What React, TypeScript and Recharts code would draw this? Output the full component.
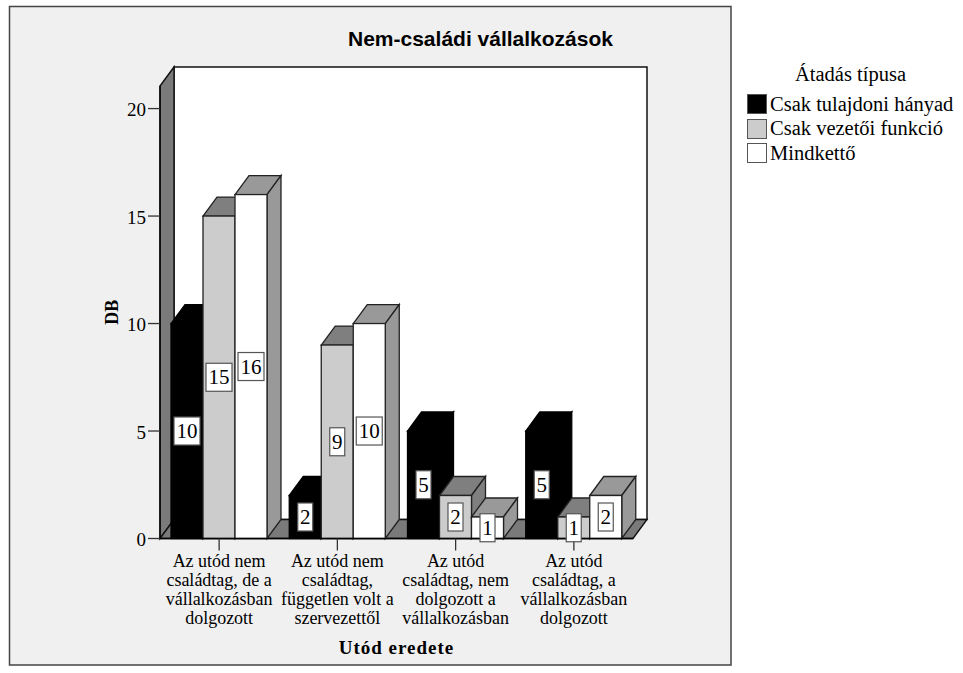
import { Bar, BarChart, LabelList, Legend, XAxis, YAxis, usePlotArea } from "recharts";

const SERIF = "'Liberation Serif', serif";
const SANS = "'Liberation Sans', sans-serif";

const CATEGORY_LINES = [
  ["Az utód nem", "családtag, de a", "vállalkozásban", "dolgozott"],
  ["Az utód nem", "családtag,", "független volt a", "szervezettől"],
  ["Az utód", "családtag, nem", "dolgozott a", "vállalkozásban"],
  ["Az utód", "családtag, a", "vállalkozásban", "dolgozott"],
];
const SERIES_NAMES = ["Csak tulajdoni hányad", "Csak vezetői funkció", "Mindkettő"];
const TULAJDONI = [10, 2, 5, 5];
const VEZETOI = [15, 9, 2, 1];
const MINDKETTO = [16, 10, 1, 2];
const Y_TICKS = [0, 5, 10, 15, 20];

const data = CATEGORY_LINES.map((lines, i) => ({
  name: lines.join(" "),
  lines,
  tulajdoni: TULAJDONI[i],
  vezetoi: VEZETOI[i],
  mindketto: MINDKETTO[i],
}));

// eltolás a 3D hatáshoz
const DX = 14;
const DY = 19;

function Walls() {
  const plot = usePlotArea();
  if (!plot) return null;
  const l = plot.x;
  const r = plot.x + plot.width;
  const t = plot.y;
  const b = plot.y + plot.height;
  return (
    <g>
      <rect x={9.5} y={6.5} width={721.5} height={658.5} fill="#f0f0f0" stroke="#444" strokeWidth={1.5} />
      <rect x={l + DX} y={t - DY} width={r - l} height={b - t} fill="#fff" stroke="#000" strokeWidth={1.4} />
      <polygon
        points={`${l},${t} ${l + DX},${t - DY} ${l + DX},${b - DY} ${l},${b}`}
        fill="#7a7a7a"
        stroke="#111"
        strokeWidth={1.4}
      />
      <polygon
        points={`${l + DX},${b - DY} ${r + DX},${b - DY} ${r},${b} ${l},${b}`}
        fill="#7a7a7a"
        stroke="#111"
        strokeWidth={1.4}
      />
      <text
        x={480.5}
        y={46}
        textAnchor="middle"
        fontFamily={SANS}
        fontWeight="bold"
        fontSize={21}
        fill="#000"
      >
        Nem-családi vállalkozások
      </text>
    </g>
  );
}

function Bar3D(props: any) {
  const { x, y, width, height, fill, topFill, sideFill } = props;
  const stroke = fill === "#000000" ? "#000" : "#222";
  const r = x + width;
  const b = y + height;
  return (
    <g stroke={stroke} strokeWidth={1.3}>
      <polygon points={`${x},${y} ${x + DX},${y - DY} ${r + DX},${y - DY} ${r},${y}`} fill={topFill} />
      <polygon points={`${r},${y} ${r + DX},${y - DY} ${r + DX},${b - DY} ${r},${b}`} fill={sideFill} />
      <rect x={x} y={y} width={width} height={height} fill={fill} />
    </g>
  );
}

function ValueBox(props: any) {
  const { x, y, width, height, value } = props;
  const w = String(value).length > 1 ? 26 : 15;
  const cx = x + width / 2;
  const cy = y + height / 2;
  return (
    <g>
      <rect x={cx - w / 2} y={cy - 14} width={w} height={28} fill="#fff" stroke="#555" strokeWidth={1.2} />
      <text x={cx} y={cy + 7} textAnchor="middle" fontFamily={SERIF} fontSize={21} fill="#000">
        {value}
      </text>
    </g>
  );
}

function CategoryTick(props: any) {
  const { x, y, index } = props;
  return (
    <text x={x} y={y} textAnchor="middle" fontFamily={SERIF} fontSize={18} fill="#000">
      {CATEGORY_LINES[index].map((line, i) => (
        <tspan key={i} x={x} dy={i === 0 ? 14 : 19}>
          {line}
        </tspan>
      ))}
    </text>
  );
}

function LegendBox(props: any) {
  const { payload } = props;
  return (
    <div style={{ fontFamily: SERIF, fontSize: 20.5, color: "#000" }}>
      <div style={{ textAlign: "center", width: 207, height: 32, lineHeight: "28px" }}>Átadás típusa</div>
      {(payload || []).map((entry: any) => (
        <div key={entry.value} style={{ display: "flex", alignItems: "center", height: 24.5, whiteSpace: "nowrap" }}>
          <span
            style={{
              display: "inline-block",
              boxSizing: "border-box",
              width: 20,
              height: 20,
              marginRight: 3,
              background: entry.color,
              border: "1px solid #555",
            }}
          />
          {entry.value}
        </div>
      ))}
    </div>
  );
}

export default function App() {
  return (
    <div style={{ position: "absolute", left: 0, top: 0, width: 963, height: 673, background: "#fff" }}>
      <BarChart
        width={963}
        height={673}
        data={data}
        margin={{ top: 86, right: 115, bottom: 14.5, left: 100 }}
        barCategoryGap={11}
        barGap={0}
        barSize={32}
      >
        <Walls />
        <XAxis
          dataKey="name"
          height={120}
          interval={0}
          tick={<CategoryTick />}
          tickSize={12}
          tickLine={{ stroke: "#333", strokeWidth: 1.3 }}
          axisLine={{ stroke: "#000", strokeWidth: 1.3 }}
          label={{
            value: "Utód eredete",
            position: "insideBottom",
            offset: 5,
            fontFamily: SERIF,
            fontWeight: "bold",
            fontSize: 19,
            letterSpacing: 1,
            fill: "#000",
          }}
        />
        <YAxis
          width={60}
          domain={[0, 21.05]}
          ticks={Y_TICKS}
          tickSize={12}
          tickLine={{ stroke: "#333", strokeWidth: 1.3 }}
          axisLine={{ stroke: "#000", strokeWidth: 1.3 }}
          tick={{ fontFamily: SERIF, fontSize: 19, fill: "#000", dy: 1 }}
          label={{
            value: "DB",
            angle: -90,
            position: "insideLeft",
            offset: 12,
            textAnchor: "middle",
            fontFamily: SERIF,
            fontWeight: "bold",
            fontSize: 18,
            fill: "#000",
          }}
        />
        <Legend
          layout="vertical"
          align="right"
          verticalAlign="top"
          width={215}
          wrapperStyle={{ left: 747, top: 60, right: "auto" }}
          content={<LegendBox />}
        />
        <Bar
          dataKey="tulajdoni"
          name={SERIES_NAMES[0]}
          fill="#000000"
          isAnimationActive={false}
          shape={<Bar3D topFill="#000000" sideFill="#000000" />}
        >
          <LabelList dataKey="tulajdoni" content={<ValueBox />} />
        </Bar>
        <Bar
          dataKey="vezetoi"
          name={SERIES_NAMES[1]}
          fill="#cccccc"
          isAnimationActive={false}
          shape={<Bar3D topFill="#7f7f7f" sideFill="#7f7f7f" />}
        >
          <LabelList dataKey="vezetoi" content={<ValueBox />} />
        </Bar>
        <Bar
          dataKey="mindketto"
          name={SERIES_NAMES[2]}
          fill="#ffffff"
          isAnimationActive={false}
          shape={<Bar3D topFill="#999999" sideFill="#999999" />}
        >
          <LabelList dataKey="mindketto" content={<ValueBox />} />
        </Bar>
      </BarChart>
    </div>
  );
}
